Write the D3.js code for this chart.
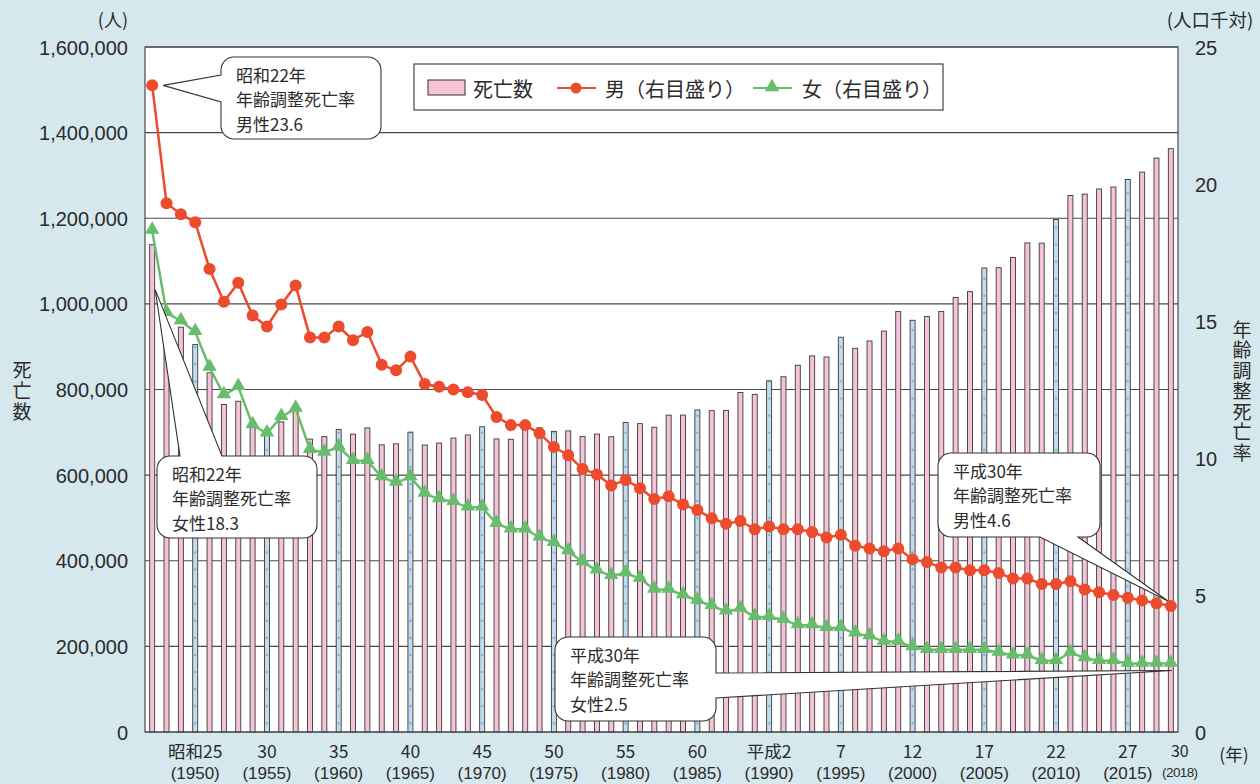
<!DOCTYPE html>
<html>
<head>
<meta charset="utf-8">
<script src="https://cdn.jsdelivr.net/npm/d3@7"></script>
<style>
  body { margin: 0; background: #d5e8ee; }
  svg { display: block; }
</style>
</head>
<body>
<div id="chart"></div>
<script>
// data: 死亡数・年齢調整死亡率（人口千対） 1947-2018
const years = [1947,1948,1949,1950,1951,1952,1953,1954,1955,1956,
  1957,1958,1959,1960,1961,1962,1963,1964,1965,1966,
  1967,1968,1969,1970,1971,1972,1973,1974,1975,1976,
  1977,1978,1979,1980,1981,1982,1983,1984,1985,1986,
  1987,1988,1989,1990,1991,1992,1993,1994,1995,1996,
  1997,1998,1999,2000,2001,2002,2003,2004,2005,2006,
  2007,2008,2009,2010,2011,2012,2013,2014,2015,2016,
  2017,2018];

const deaths = [1138238,950610,945444,904876,838998,765068,772547,721491,693523,724460,
  752445,684189,689959,706599,695644,710265,670770,673067,700438,670342,
  675006,686555,693787,712962,684521,683751,709416,710510,702275,703270,
  690074,695821,689664,722801,720262,711883,740038,740247,752283,750620,
  751172,793014,788594,820305,829797,856643,878532,875933,922139,896211,
  913402,936484,982031,961653,970331,982379,1014951,1028602,1083796,1084451,
  1108334,1142407,1141865,1197014,1253066,1256359,1268436,1273004,1290444,1307748,
  1340567,1362470];

const maleRate = [23.6,19.3,18.9,18.6,16.9,15.7,16.4,15.2,14.8,15.6,
  16.3,14.4,14.4,14.8,14.3,14.6,13.4,13.2,13.7,12.7,
  12.6,12.5,12.4,12.3,11.5,11.2,11.2,10.9,10.4,10.1,
  9.6,9.4,9.0,9.2,8.9,8.5,8.6,8.3,8.1,7.8,
  7.6,7.7,7.4,7.5,7.4,7.4,7.3,7.1,7.2,6.8,
  6.7,6.6,6.7,6.3,6.2,6.0,6.0,5.9,5.9,5.8,
  5.6,5.6,5.4,5.4,5.5,5.2,5.1,5.0,4.9,4.8,
  4.7,4.6];

const femaleRate = [18.3,15.3,15.0,14.6,13.3,12.3,12.6,11.2,10.9,11.5,
  11.8,10.3,10.2,10.4,9.9,9.9,9.3,9.1,9.3,8.7,
  8.5,8.4,8.2,8.2,7.6,7.4,7.4,7.1,6.9,6.6,
  6.2,5.9,5.7,5.8,5.6,5.2,5.2,5.0,4.8,4.6,
  4.4,4.5,4.2,4.2,4.1,3.9,3.9,3.8,3.8,3.6,
  3.5,3.3,3.3,3.1,3.0,3.0,3.0,3.0,3.0,2.9,
  2.8,2.8,2.6,2.6,2.9,2.7,2.6,2.6,2.5,2.5,
  2.5,2.5];

// years drawn with blue bars
const blueYears = [1950,1955,1960,1965,1970,1975,1980,1985,1990,1995,2000,2005,2010,2015];

const labelYears  = [1950,1955,1960,1965,1970,1975,1980,1985,1990,1995,2000,2005,2010,2015];
const labelTop    = ["昭和25","30","35","40","45","50","55","60","平成2","7","12","17","22","27"];
const labelBottom = ["(1950)","(1955)","(1960)","(1965)","(1970)","(1975)","(1980)","(1985)","(1990)","(1995)","(2000)","(2005)","(2010)","(2015)"];

const leftTicks  = [0,200000,400000,600000,800000,1000000,1200000,1400000,1600000];
const rightTicks = [0,5,10,15,20,25];

const font = '"Noto Sans CJK JP", "Noto Sans", sans-serif';
const latin = '"Liberation Sans", Arial, sans-serif';
const textColor = "#2b2b2b";
const red = "#ec4b2d", green = "#68bd6d";

const W = 1260, H = 784;
const plot = {left: 145, right: 1178, top: 47, bottom: 732};

const svg = d3.select("#chart").append("svg")
  .attr("width", W).attr("height", H)
  .style("font-family", font);

svg.append("rect").attr("width", W).attr("height", H).attr("fill", "#d5e8ee");

const x = d3.scaleBand().domain(years).range([plot.left, plot.right]).padding(0);
const yL = d3.scaleLinear().domain([0, 1600000]).range([plot.bottom, plot.top]);
const yR = d3.scaleLinear().domain([0, 25]).range([plot.bottom, plot.top]);
const cx = d => x(d) + x.bandwidth() / 2;

// dotted pattern for blue bars
const defs = svg.append("defs");
const pat = defs.append("pattern").attr("id", "dots")
  .attr("patternUnits", "userSpaceOnUse")
  .attr("x", plot.left).attr("y", plot.bottom)
  .attr("width", x.step()).attr("height", 17.1);
pat.append("rect").attr("width", x.step()).attr("height", 17.1).attr("fill", "#c3dbed");
pat.append("circle").attr("cx", x.step() / 2).attr("cy", 8.5).attr("r", 1.1).attr("fill", "#6e9fd2");

// plot area
svg.append("rect")
  .attr("x", plot.left).attr("y", plot.top)
  .attr("width", plot.right - plot.left).attr("height", plot.bottom - plot.top)
  .attr("fill", "#fff");

// grid
svg.append("g").selectAll("line").data(leftTicks).enter().append("line")
  .attr("x1", plot.left).attr("x2", plot.right)
  .attr("y1", d => yL(d)).attr("y2", d => yL(d))
  .attr("stroke", "#4a4a4a").attr("stroke-width", 1.2);

// bars
const barW = 5;
svg.append("g").selectAll("rect").data(years).enter().append("rect")
  .attr("x", d => cx(d) - barW / 2)
  .attr("y", (d, i) => yL(deaths[i]))
  .attr("width", barW)
  .attr("height", (d, i) => yL(0) - yL(deaths[i]))
  .attr("fill", d => blueYears.includes(d) ? "url(#dots)" : "#f4c4d6")
  .attr("stroke", "#3a3a3a").attr("stroke-width", 0.9);

// frame
svg.append("rect")
  .attr("x", plot.left).attr("y", plot.top)
  .attr("width", plot.right - plot.left).attr("height", plot.bottom - plot.top)
  .attr("fill", "none").attr("stroke", "#4a4a4a").attr("stroke-width", 1.2);

// male line
const line = d3.line().x((d, i) => cx(years[i])).y(d => yR(d));
svg.append("path").datum(maleRate).attr("d", line)
  .attr("fill", "none").attr("stroke", red).attr("stroke-width", 2.5);
svg.append("g").selectAll("circle").data(maleRate).enter().append("circle")
  .attr("cx", (d, i) => cx(years[i])).attr("cy", d => yR(d))
  .attr("r", 6).attr("fill", red);

// female line
svg.append("path").datum(femaleRate).attr("d", line)
  .attr("fill", "none").attr("stroke", green).attr("stroke-width", 2.5);
const tri = d3.symbol().type(d3.symbolTriangle).size(90);
svg.append("g").selectAll("path").data(femaleRate).enter().append("path")
  .attr("d", tri)
  .attr("transform", (d, i) => "translate(" + cx(years[i]) + "," + (yR(d) - 1) + ")")
  .attr("fill", green);

// axes
const axL = svg.append("g").attr("transform", "translate(" + plot.left + ",0)")
  .call(d3.axisLeft(yL).tickValues(leftTicks).tickSize(0).tickPadding(17).tickFormat(d3.format(",")));
const axR = svg.append("g").attr("transform", "translate(" + plot.right + ",0)")
  .call(d3.axisRight(yR).tickValues(rightTicks).tickSize(0).tickPadding(17));
[axL, axR].forEach(a => {
  a.select(".domain").remove();
  a.selectAll("text").attr("font-family", latin).attr("font-size", 20)
    .attr("fill", textColor).attr("dy", "0.35em");
});

// x labels: era year on top, western year below
const xl = svg.append("g").attr("fill", textColor).attr("text-anchor", "middle");
labelYears.forEach((yr, i) => {
  xl.append("text").attr("x", cx(yr)).attr("y", 758).attr("font-size", 17.5).text(labelTop[i]);
  xl.append("text").attr("x", cx(yr)).attr("y", 779).attr("font-family", latin)
    .attr("font-size", 17).text(labelBottom[i]);
});
xl.append("text").attr("x", cx(2018) + 9).attr("y", 757).attr("font-size", 16).text("30");
xl.append("text").attr("x", cx(2018) + 9).attr("y", 777).attr("font-family", latin)
  .attr("font-size", 13.5).attr("letter-spacing", -0.6).text("(2018)");
xl.append("text").attr("x", 1234).attr("y", 761).attr("font-size", 17.5).text("(年)");

// unit labels
svg.append("text").attr("x", 128).attr("y", 19).attr("text-anchor", "end")
  .attr("font-size", 18).attr("fill", textColor).attr("dominant-baseline", "central").text("(人)");
svg.append("text").attr("x", 1210).attr("y", 19).attr("text-anchor", "middle")
  .attr("font-size", 18.5).attr("fill", textColor).attr("dominant-baseline", "central").text("(人口千対)");

// vertical titles
function vtext(str, x0, y0, spacing) {
  svg.append("text")
    .attr("x", x0).attr("y", y0)
    .attr("font-size", 19).attr("fill", textColor)
    .style("writing-mode", "vertical-rl")
    .attr("letter-spacing", spacing)
    .text(str);
}
vtext("死亡数", 22, 360, 2);
vtext("年齢調整死亡率", 1242, 320, 1.5);

// callouts
function calloutPath(x0, y0, w, h, r, side, a, b, tip) {
  const x1 = x0 + w, y1 = y0 + h;
  let p = "M" + (x0 + r) + "," + y0;
  if (side === "top") p += "L" + a + "," + y0 + "L" + tip[0] + "," + tip[1] + "L" + b + "," + y0;
  p += "L" + (x1 - r) + "," + y0 + "A" + r + "," + r + " 0 0 1 " + x1 + "," + (y0 + r);
  if (side === "right") p += "L" + x1 + "," + a + "L" + tip[0] + "," + tip[1] + "L" + x1 + "," + b;
  p += "L" + x1 + "," + (y1 - r) + "A" + r + "," + r + " 0 0 1 " + (x1 - r) + "," + y1;
  if (side === "bottom") p += "L" + b + "," + y1 + "L" + tip[0] + "," + tip[1] + "L" + a + "," + y1;
  p += "L" + (x0 + r) + "," + y1 + "A" + r + "," + r + " 0 0 1 " + x0 + "," + (y1 - r);
  if (side === "left") p += "L" + x0 + "," + b + "L" + tip[0] + "," + tip[1] + "L" + x0 + "," + a;
  p += "L" + x0 + "," + (y0 + r) + "A" + r + "," + r + " 0 0 1 " + (x0 + r) + "," + y0 + "Z";
  return p;
}

function callout(box, side, a, b, tip, lines) {
  const g = svg.append("g");
  g.append("path").attr("d", calloutPath(box[0], box[1], box[2], box[3], 13, side, a, b, tip))
    .attr("fill", "#fff").attr("stroke", "#333").attr("stroke-width", 1.1);
  lines.forEach((t, i) => {
    g.append("text").attr("x", box[0] + 15).attr("y", box[1] + 17 + i * 24.7)
      .attr("font-size", 17).attr("fill", textColor).attr("dominant-baseline", "central").text(t);
  });
}

const i2018 = years.length - 1;
callout([221, 57, 160, 82], "left", 75, 102,
  [cx(1947) + 11, yR(maleRate[0])], ["昭和22年", "年齢調整死亡率", "男性23.6"]);
callout([157, 456, 160, 82], "top", 180, 222,
  [cx(1947) + 3, yR(femaleRate[0]) + 59], ["昭和22年", "年齢調整死亡率", "女性18.3"]);
callout([938, 453, 162, 84], "bottom", 1040, 1078,
  [cx(2018) - 3, yR(maleRate[i2018]) - 5], ["平成30年", "年齢調整死亡率", "男性4.6"]);
callout([555, 637, 161, 84], "right", 673, 698,
  [cx(2018) + 1, yR(femaleRate[i2018]) + 7], ["平成30年", "年齢調整死亡率", "女性2.5"]);

// legend
const lg = svg.append("g");
lg.append("rect").attr("x", 414).attr("y", 64).attr("width", 529).attr("height", 46)
  .attr("fill", "#fff").attr("stroke", "#333").attr("stroke-width", 1.1);
lg.append("rect").attr("x", 428).attr("y", 80).attr("width", 37).attr("height", 15)
  .attr("fill", "#f4c4d6").attr("stroke", "#333").attr("stroke-width", 1);
lg.append("text").attr("x", 473).attr("y", 88).text("死亡数");
lg.append("line").attr("x1", 557).attr("x2", 596).attr("y1", 88).attr("y2", 88)
  .attr("stroke", red).attr("stroke-width", 2);
lg.append("circle").attr("cx", 576).attr("cy", 88).attr("r", 5.5).attr("fill", red);
lg.append("text").attr("x", 605).attr("y", 88).text("男（右目盛り）");
lg.append("line").attr("x1", 753).attr("x2", 792).attr("y1", 88).attr("y2", 88)
  .attr("stroke", green).attr("stroke-width", 2);
lg.append("path").attr("d", tri).attr("transform", "translate(772,87)").attr("fill", green);
lg.append("text").attr("x", 802).attr("y", 88).text("女（右目盛り）");
lg.selectAll("text").attr("font-size", 20).attr("fill", textColor).attr("dominant-baseline", "central");
</script>
</body>
</html>
